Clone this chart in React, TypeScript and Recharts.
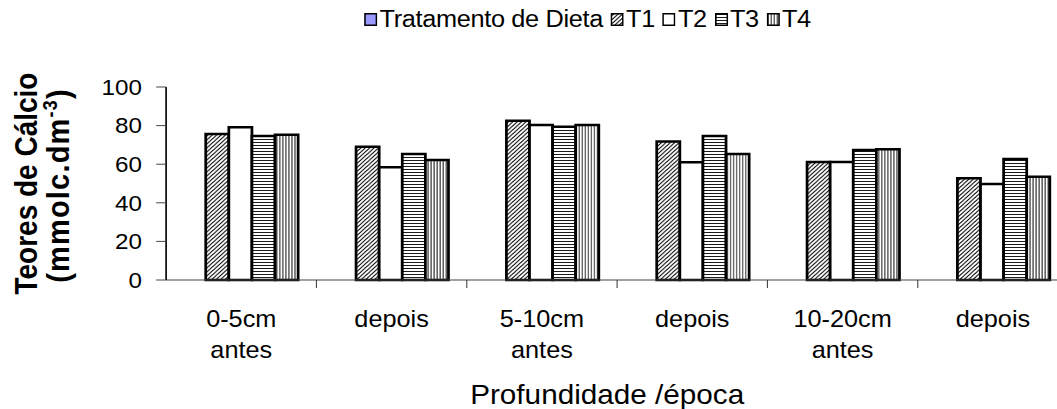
import React from 'react';
import { BarChart, Bar, XAxis, YAxis, Legend } from 'recharts';

const categories = ['0-5cm antes', '0-5cm depois', '5-10cm antes', '5-10cm depois', '10-20cm antes', '10-20cm depois'];
const tickLabels = [['0-5cm', 'antes'], ['depois'], ['5-10cm', 'antes'], ['depois'], ['10-20cm', 'antes'], ['depois']];
const dietaValues: (number | null)[] = [null, null, null, null, null, null];
const t1Values = [75.6, 69.1, 82.5, 71.7, 61.1, 52.7];
const t2Values = [79.1, 58.4, 80.3, 61.0, 61.1, 49.7];
const t3Values = [74.6, 65.3, 79.4, 74.6, 67.4, 62.7];
const t4Values = [75.3, 62.2, 80.3, 65.3, 67.7, 53.5];
const yTicks = [0, 20, 40, 60, 80, 100];
const seriesNames = ['Tratamento de Dieta', 'T1', 'T2', 'T3', 'T4'];
const xTitle = 'Profundidade /época';

const data = categories.map((c, i) => ({
  cat: c,
  dieta: dietaValues[i],
  t1: t1Values[i],
  t2: t2Values[i],
  t3: t3Values[i],
  t4: t4Values[i],
}));

const FONT = "'Liberation Sans', Arial, Helvetica, sans-serif";

const series = [
  { key: 'dieta', name: seriesNames[0], fill: '#9999FF' },
  { key: 't1', name: seriesNames[1], fill: 'url(#pT1)' },
  { key: 't2', name: seriesNames[2], fill: '#FFFFFF' },
  { key: 't3', name: seriesNames[3], fill: 'url(#pT3)' },
  { key: 't4', name: seriesNames[4], fill: 'url(#pT4)' },
];

const XTick = (props: any) => {
  const { x, y, payload, index } = props;
  const half = payload && typeof payload.offset === 'number' ? payload.offset : 0;
  const i = typeof index === 'number' ? index : payload.index;
  const lines = tickLabels[i] || [String(payload.value)];
  const axisY = y - 8;
  return (
    <g>
      {i < categories.length - 1 && (
        <line x1={x + half} y1={axisY} x2={x + half} y2={axisY + 8} stroke="#444" strokeWidth={1} />
      )}
      <text x={x} y={y} textAnchor="middle" fontFamily={FONT} fontSize={23} fill="#000">
        {lines.map((l, k) => (
          <tspan key={k} x={x} dy={k === 0 ? 38.7 : 31.6}>{l}</tspan>
        ))}
      </text>
    </g>
  );
};

const YTitle = (p: any) => {
  const vb = p.viewBox || { x: 0, y: 87, width: 151, height: 193 };
  const cy = vb.y + vb.height / 2;
  return (
    <g>
      <text transform={`translate(${vb.x + 34}, ${cy}) rotate(-90)`} textAnchor="middle" fontFamily={FONT} fontWeight="bold" fontSize={28} fill="#000">
        Teores de Cálcio
      </text>
      <text transform={`translate(${vb.x + 62.5}, ${cy + 2}) rotate(-90)`} textAnchor="middle" fontFamily={FONT} fontWeight="bold" fontSize={29} letterSpacing={1.2} fill="#000">
        (mmolc.dm<tspan dy={-11} fontSize={18}>-3</tspan><tspan dy={11}>)</tspan>
      </text>
    </g>
  );
};

const XTitle = (p: any) => {
  const vb = p.viewBox || { x: 151, y: 280, width: 820, height: 129 };
  return (
    <text x={vb.x + vb.width / 2 - 9} y={404} textAnchor="middle" fontFamily={FONT} fontSize={27} fill="#000">
      {xTitle}
    </text>
  );
};

const LegendContent = () => (
  <div style={{ display: 'flex', alignItems: 'center', fontFamily: FONT, fontSize: 23, lineHeight: '23px', letterSpacing: '-0.3px', color: '#000', whiteSpace: 'nowrap' }}>
    {series.map((s) => (
      <span key={s.key} style={{ display: 'inline-flex', alignItems: 'center', marginRight: 7 }}>
        <svg width={12} height={13} style={{ display: 'block' }}>
          <rect x={0.75} y={0.75} width={10.5} height={11.5} fill={s.fill} stroke="#000" strokeWidth={1.5} />
        </svg>
        <span style={{ marginLeft: 2 }}>{s.name}</span>
      </span>
    ))}
  </div>
);

export default function App() {
  return (
    <div style={{ position: 'absolute', left: 0, top: 0, width: 1057, height: 409, overflow: 'hidden', background: '#fff' }}>
      <div style={{ width: 985, height: 409, transform: 'scaleX(1.1)', transformOrigin: '0 0' }}>
        <BarChart
          width={985}
          height={409}
          data={data}
          margin={{ top: 47, right: 14, bottom: 0, left: 0 }}
          barCategoryGap="11%"
          barGap={0}
        >
          <defs>
            <pattern id="pT1" patternUnits="userSpaceOnUse" width={4} height={4}>
              <rect width={4} height={4} fill="#fff" />
              <path d="M0,4 L4,0 M-1,1 L1,-1 M3,5 L5,3" stroke="#000" strokeWidth={0.9} />
            </pattern>
            <pattern id="pT3" patternUnits="userSpaceOnUse" width={4} height={3}>
              <rect width={4} height={3} fill="#fff" />
              <line x1={0} y1={1.5} x2={4} y2={1.5} stroke="#000" strokeWidth={0.9} />
            </pattern>
            <pattern id="pT4" patternUnits="userSpaceOnUse" width={2.75} height={4}>
              <rect width={2.75} height={4} fill="#fff" />
              <line x1={1.4} y1={0} x2={1.4} y2={4} stroke="#000" strokeWidth={0.8} />
            </pattern>
          </defs>
          <Legend
            verticalAlign="top"
            content={<LegendContent />}
            wrapperStyle={{ top: 8, left: 331, width: 620, height: 40 }}
          />
          <XAxis
            dataKey="cat"
            interval={0}
            height={129}
            tickSize={8}
            tickMargin={0}
            tickLine={false}
            axisLine={{ stroke: '#444', strokeWidth: 1 }}
            tick={<XTick />}
            label={{ content: (p: any) => <XTitle {...p} /> }}
          />
          <YAxis
            width={151}
            domain={[0, 100]}
            ticks={yTicks}
            interval={0}
            tickSize={9}
            tickMargin={13}
            axisLine={{ stroke: '#000', strokeWidth: 1.5 }}
            tickLine={{ stroke: '#444', strokeWidth: 1 }}
            tick={{ fill: '#000', fontSize: 22, fontFamily: FONT }}
            label={{ content: (p: any) => <YTitle {...p} /> }}
          />
          {series.map((s) => (
            <Bar key={s.key} dataKey={s.key} name={s.name} fill={s.fill} stroke="#000" strokeWidth={2.5} isAnimationActive={false} />
          ))}
        </BarChart>
      </div>
    </div>
  );
}
